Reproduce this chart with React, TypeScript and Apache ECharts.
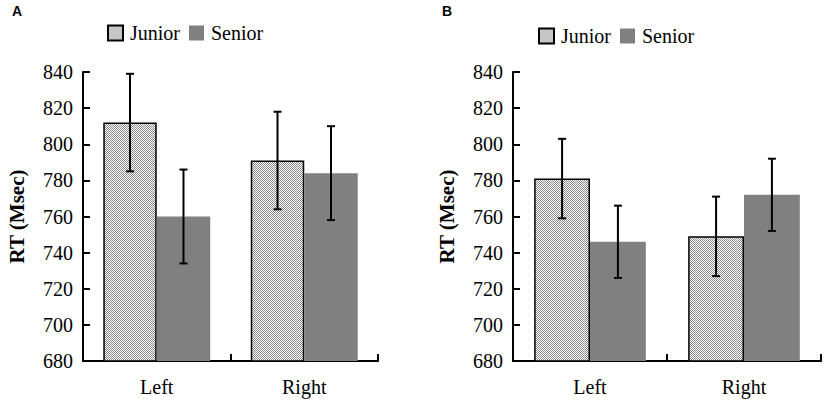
import React, { useEffect, useRef } from "react";
import * as echarts from "echarts";

const categories = ["Left", "Right"];
const seriesNames = ["Junior", "Senior"];
const yTicks = { min: 680, max: 840, step: 20 };

// Panel A
const juniorA = [812, 791];
const seniorA = [760, 784];
const juniorErrA = [27, 27];
const seniorErrA = [26, 26];

// Panel B
const juniorB = [781, 749];
const seniorB = [746, 772];
const juniorErrB = [22, 22];
const seniorErrB = [20, 20];

const SERIF = "Liberation Serif";
const CAT_GAP = 0.275;

function makeStipple(): HTMLCanvasElement {
  const c = document.createElement("canvas");
  c.width = 2;
  c.height = 2;
  const ctx = c.getContext("2d")!;
  ctx.fillStyle = "#ffffff";
  ctx.fillRect(0, 0, 2, 2);
  ctx.fillStyle = "#8c8c8c";
  ctx.fillRect(0, 0, 1, 1);
  ctx.fillRect(1, 1, 1, 1);
  return c;
}

function errData(vals: number[], errs: number[]) {
  return vals.map((v, i) => [i, v + errs[i], v - errs[i]]);
}

function errSeries(idx: number, side: number, vals: number[], errs: number[]) {
  return {
    type: "custom",
    name: "err" + idx + side,
    xAxisIndex: idx,
    yAxisIndex: idx,
    z: 10,
    encode: { x: 0, y: [1, 2] },
    data: errData(vals, errs),
    renderItem: (params: any, api: any) => {
      const xi = api.value(0);
      const hi = api.value(1);
      const lo = api.value(2);
      const band = api.size([1, 0])[0];
      const off = (side * band * (1 - CAT_GAP)) / 4;
      const top = api.coord([xi, hi]);
      const bot = api.coord([xi, lo]);
      const x = top[0] + off;
      const cap = 4;
      const st = { stroke: "#000", lineWidth: 2 };
      return {
        type: "group",
        children: [
          { type: "line", shape: { x1: x, y1: top[1], x2: x, y2: bot[1] }, style: st },
          { type: "line", shape: { x1: x - cap, y1: top[1], x2: x + cap, y2: top[1] }, style: st },
          { type: "line", shape: { x1: x - cap, y1: bot[1], x2: x + cap, y2: bot[1] }, style: st },
        ],
      };
    },
  };
}

function xAxisFor(idx: number) {
  return {
    type: "category",
    gridIndex: idx,
    data: categories,
    axisLine: { show: true, lineStyle: { color: "#000", width: 2 } },
    axisTick: { show: true, inside: true, length: 7, lineStyle: { color: "#000", width: 2 } },
    axisLabel: { color: "#000", fontSize: 20, fontFamily: SERIF, margin: 16 },
    splitLine: { show: false },
  };
}

function yAxisFor(idx: number) {
  return {
    type: "value",
    gridIndex: idx,
    min: yTicks.min,
    max: yTicks.max,
    interval: yTicks.step,
    name: "RT (Msec)",
    nameLocation: "middle",
    nameGap: 56,
    nameRotate: 90,
    nameTextStyle: { color: "#000", fontSize: 21, fontWeight: "bold", fontFamily: SERIF },
    axisLine: { show: true, lineStyle: { color: "#000", width: 2 } },
    axisTick: { show: true, inside: true, length: 7, lineStyle: { color: "#000", width: 2 } },
    axisLabel: { color: "#000", fontSize: 20, fontFamily: SERIF, margin: 10 },
    splitLine: { show: false },
  };
}

function legendFor(left: number, top: number) {
  return {
    left,
    top,
    padding: 0,
    orient: "horizontal",
    icon: "rect",
    itemWidth: 15,
    itemHeight: 15,
    itemGap: 9,
    selectedMode: false,
    data: seriesNames,
    textStyle: { color: "#000", fontSize: 20, fontFamily: SERIF, padding: [0, 0, 0, 2] },
  };
}

export default function App() {
  const ref = useRef<HTMLDivElement>(null);
  useEffect(() => {
    if (!ref.current) return;
    const chart = echarts.init(ref.current, null, { renderer: "svg" });
    const stipple = {
      image: makeStipple(),
      repeat: "repeat",
      imageWidth: 2,
      imageHeight: 2,
    };
    const juniorStyle = {
      color: stipple,
      borderColor: "#000000",
      borderWidth: 1.5,
    };
    const seniorStyle = { color: "#808080", borderWidth: 0 };
    const option = {
      animation: false,
      backgroundColor: "#ffffff",
      textStyle: { fontFamily: SERIF },
      title: [
        {
          text: "A",
          left: 12,
          top: 4,
          padding: 0,
          textStyle: { fontSize: 14, fontWeight: "bold", fontFamily: "Liberation Sans", color: "#000" },
        },
        {
          text: "B",
          left: 442,
          top: 4,
          padding: 0,
          textStyle: { fontSize: 14, fontWeight: "bold", fontFamily: "Liberation Sans", color: "#000" },
        },
      ],
      legend: [legendFor(107, 23), legendFor(538, 26)],
      grid: [
        { left: 83, top: 72, width: 295, height: 289, outerBoundsMode: "none" },
        { left: 513, top: 72, width: 308, height: 289, outerBoundsMode: "none" },
      ],
      xAxis: [xAxisFor(0), xAxisFor(1)],
      yAxis: [yAxisFor(0), yAxisFor(1)],
      series: [
        {
          type: "bar",
          name: seriesNames[0],
          xAxisIndex: 0,
          yAxisIndex: 0,
          data: juniorA,
          barGap: "0%",
          barCategoryGap: CAT_GAP * 100 + "%",
          itemStyle: juniorStyle,
        },
        {
          type: "bar",
          name: seriesNames[1],
          xAxisIndex: 0,
          yAxisIndex: 0,
          data: seniorA,
          barGap: "0%",
          barCategoryGap: CAT_GAP * 100 + "%",
          itemStyle: seniorStyle,
        },
        {
          type: "bar",
          name: seriesNames[0],
          xAxisIndex: 1,
          yAxisIndex: 1,
          data: juniorB,
          barGap: "0%",
          barCategoryGap: CAT_GAP * 100 + "%",
          itemStyle: juniorStyle,
        },
        {
          type: "bar",
          name: seriesNames[1],
          xAxisIndex: 1,
          yAxisIndex: 1,
          data: seniorB,
          barGap: "0%",
          barCategoryGap: CAT_GAP * 100 + "%",
          itemStyle: seniorStyle,
        },
        errSeries(0, -1, juniorA, juniorErrA),
        errSeries(0, 1, seniorA, seniorErrA),
        errSeries(1, -1, juniorB, juniorErrB),
        errSeries(1, 1, seniorB, seniorErrB),
      ],
    };
    chart.setOption(option as any);
    return () => chart.dispose();
  }, []);
  return (
    <div
      ref={ref}
      style={{ position: "fixed", left: 0, top: 0, width: 829, height: 413, background: "#fff" }}
    />
  );
}
